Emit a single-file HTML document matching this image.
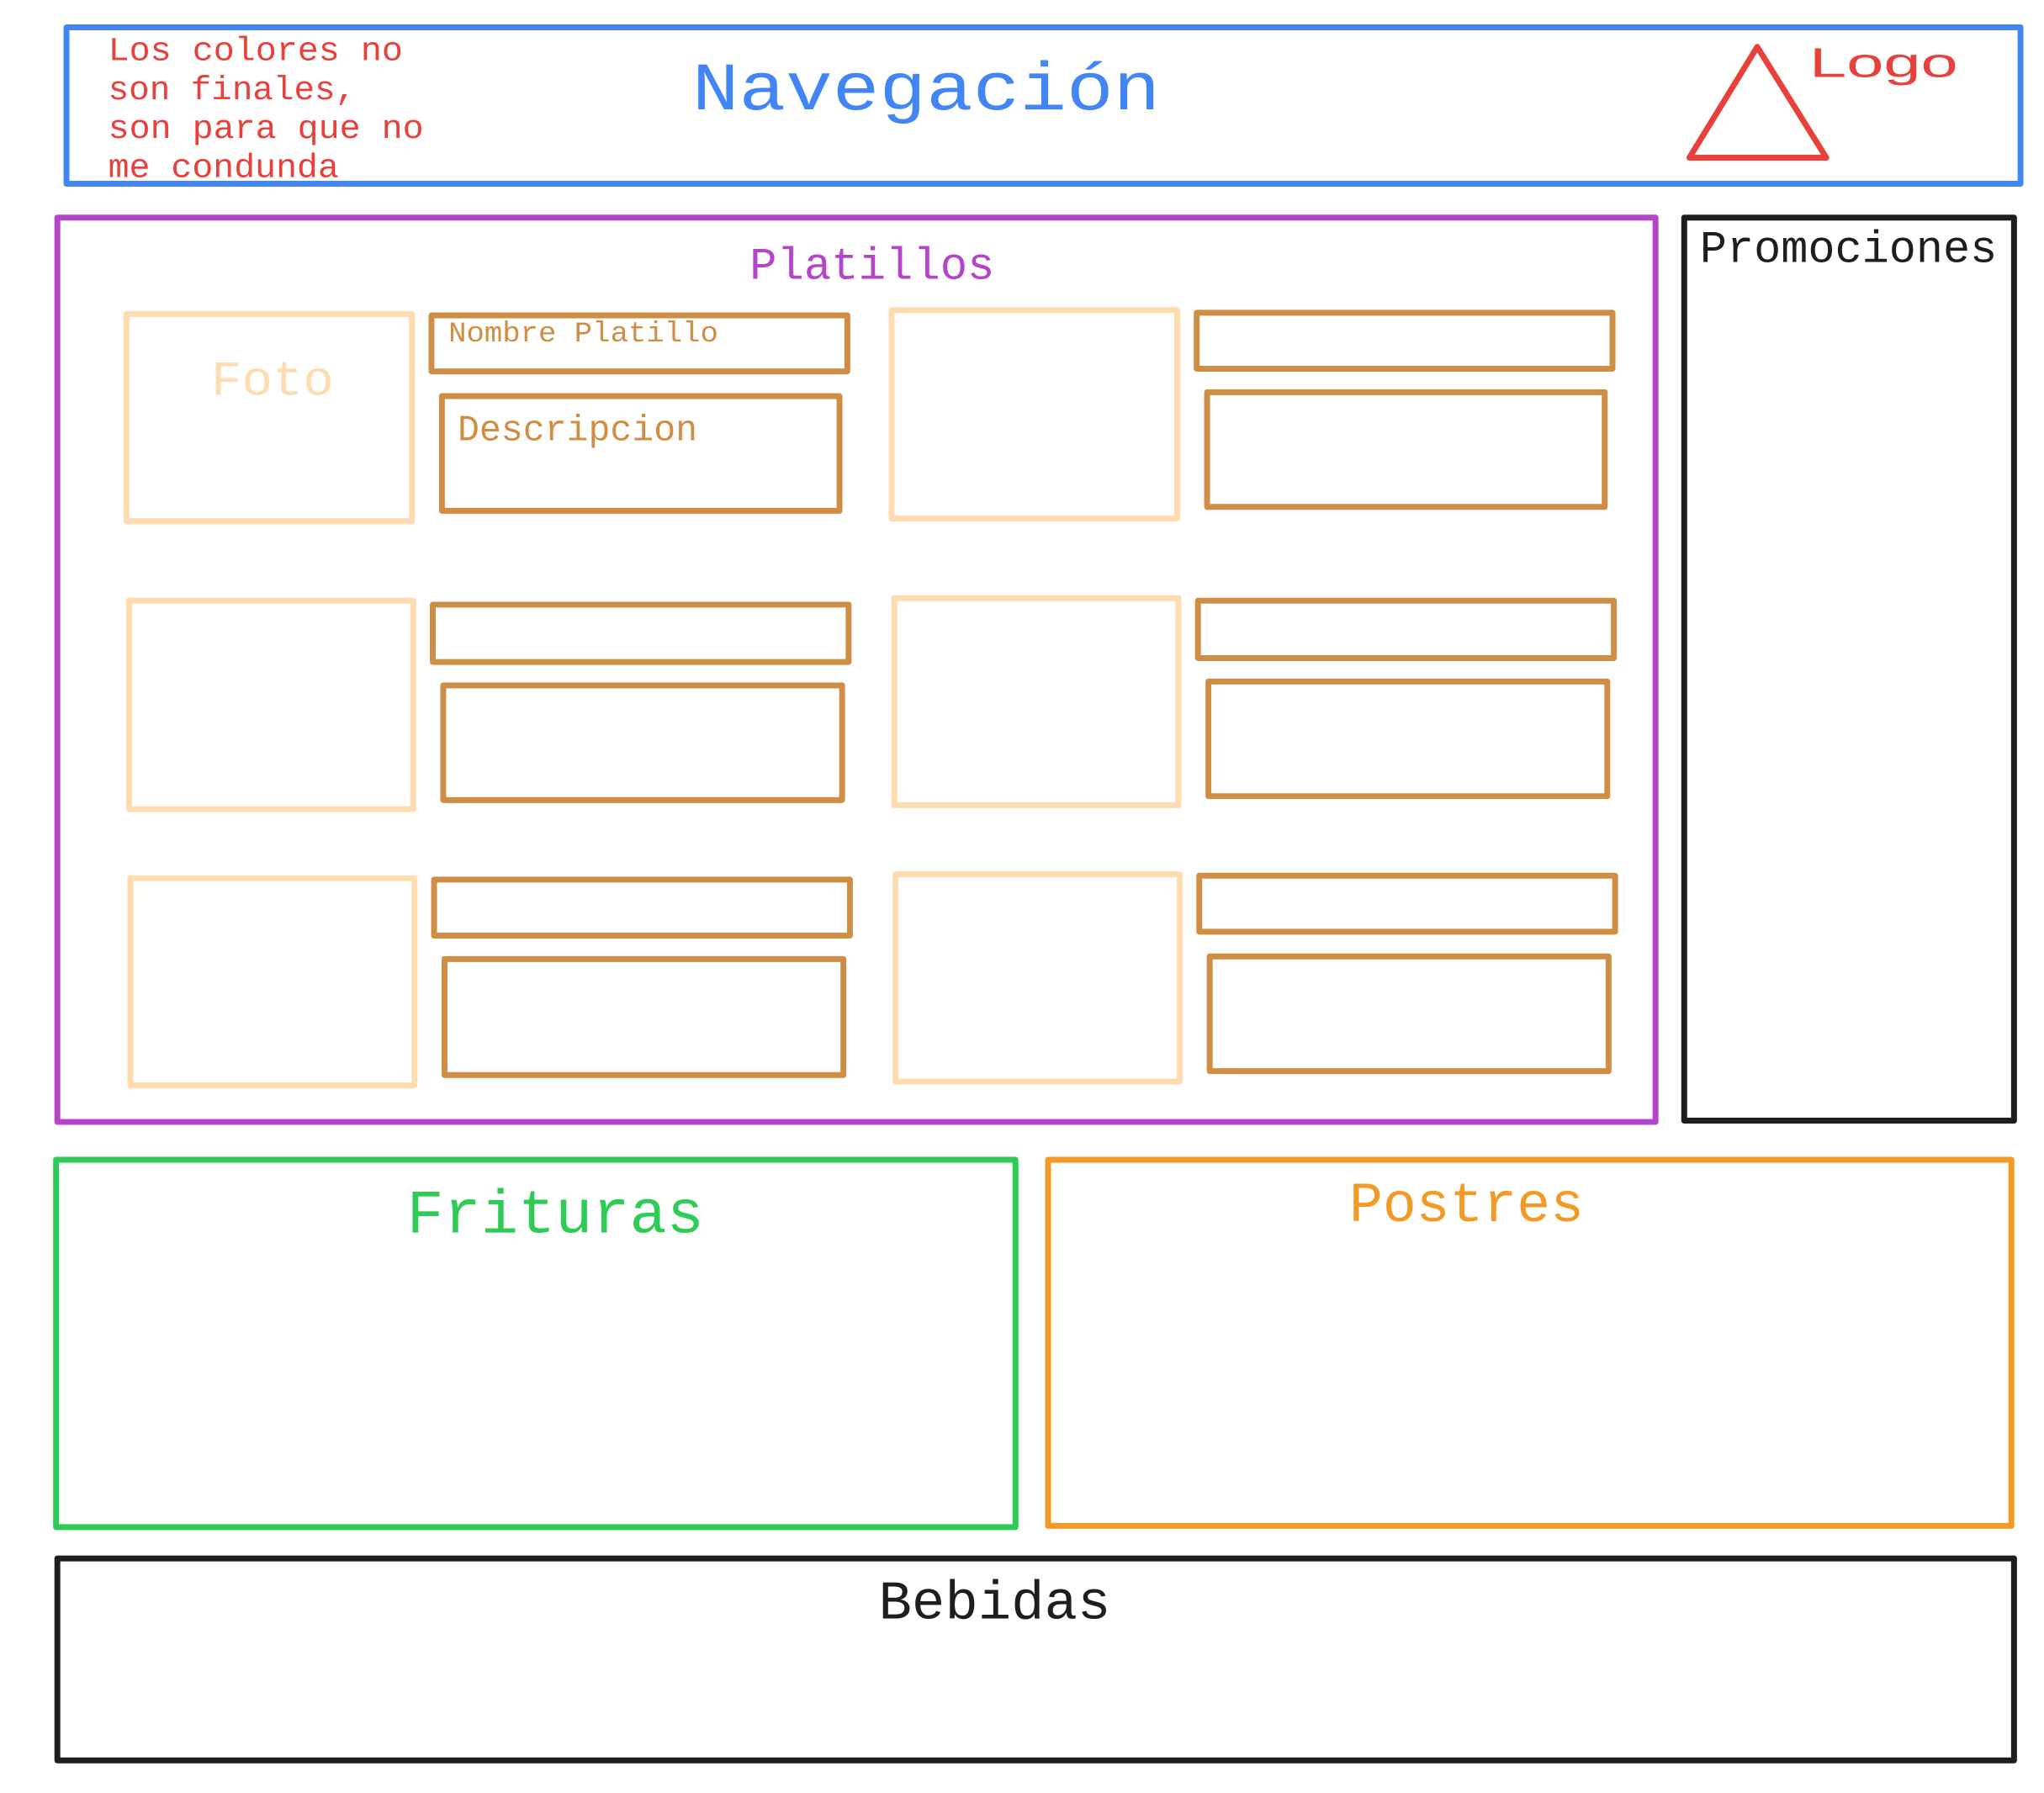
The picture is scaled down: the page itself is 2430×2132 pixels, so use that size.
<!DOCTYPE html>
<html><head><meta charset="utf-8"><style>
html,body{margin:0;padding:0;background:#fff;width:2430px;height:2132px;overflow:hidden}
svg{display:block}
text{font-family:"Liberation Mono",monospace}
</style></head><body>
<svg width="2430" height="2132" viewBox="0 0 1568 1376" preserveAspectRatio="none" xmlns="http://www.w3.org/2000/svg">
<g fill="none" stroke-width="4.5" stroke-linejoin="round">
<rect x="51" y="21" width="1499" height="120" stroke="#4285F4"/>
<polygon points="1348,36 1296,121 1401,121" stroke="#E8403A"/>
<rect x="44" y="167" width="1226" height="694" stroke="#B444C8"/>
<rect x="1292" y="167" width="253" height="693" stroke="#1e1e1e"/>
<g stroke="#FFDCB0">
<rect x="97" y="241" width="219" height="159"/>
<rect x="684" y="238" width="219" height="160"/>
<rect x="99" y="461" width="218" height="160"/>
<rect x="686" y="459" width="218" height="159"/>
<rect x="100" y="674" width="218" height="159"/>
<rect x="687" y="671" width="218" height="159"/>
</g>
<g stroke="#D08E45">
<rect x="331" y="242" width="319" height="43"/>
<rect x="339" y="304" width="305" height="88"/>
<rect x="918" y="240" width="319" height="43"/>
<rect x="926" y="301" width="305" height="88"/>
<rect x="332" y="464" width="319" height="44"/>
<rect x="340" y="526" width="306" height="88"/>
<rect x="919" y="461" width="319" height="44"/>
<rect x="927" y="523" width="306" height="88"/>
<rect x="333" y="675" width="319" height="43"/>
<rect x="341" y="736" width="306" height="89"/>
<rect x="920" y="672" width="319" height="43"/>
<rect x="928" y="734" width="306" height="88"/>
</g>
<rect x="43" y="890" width="736" height="282" stroke="#2ECC57"/>
<rect x="804" y="890" width="739" height="281" stroke="#F39A26"/>
<rect x="44" y="1196" width="1501" height="155" stroke="#1e1e1e"/>
</g>
<g fill="#E8403A" font-size="26">
<text x="83" y="46" textLength="226" lengthAdjust="spacingAndGlyphs">Los colores no</text>
<text x="83" y="76" textLength="190" lengthAdjust="spacingAndGlyphs">son finales,</text>
<text x="83" y="106" textLength="242" lengthAdjust="spacingAndGlyphs">son para que no</text>
<text x="83" y="136" textLength="177" lengthAdjust="spacingAndGlyphs">me condunda</text>
</g>
<text x="531" y="84" fill="#4285F4" font-size="52" textLength="359" lengthAdjust="spacingAndGlyphs">Navegación</text>
<text x="1388" y="59" fill="#E8403A" font-size="32" style="font-family:'Liberation Sans',sans-serif" textLength="114" lengthAdjust="spacingAndGlyphs">Logo</text>
<text x="575" y="214" fill="#B444C8" font-size="35" textLength="188" lengthAdjust="spacingAndGlyphs">Platillos</text>
<text x="1304" y="201" fill="#1e1e1e" font-size="35" textLength="228" lengthAdjust="spacingAndGlyphs">Promociones</text>
<text x="162" y="303" fill="#FFDCB0" font-size="38" textLength="94" lengthAdjust="spacingAndGlyphs">Foto</text>
<text x="344" y="262" fill="#D08E45" font-size="22" textLength="207" lengthAdjust="spacingAndGlyphs">Nombre Platillo</text>
<text x="351" y="338" fill="#D08E45" font-size="28" textLength="184" lengthAdjust="spacingAndGlyphs">Descripcion</text>
<text x="312" y="946" fill="#2ECC57" font-size="47" textLength="228" lengthAdjust="spacingAndGlyphs">Frituras</text>
<text x="1035" y="937" fill="#F39A26" font-size="43" textLength="180" lengthAdjust="spacingAndGlyphs">Postres</text>
<text x="674" y="1242" fill="#1e1e1e" font-size="42" textLength="178" lengthAdjust="spacingAndGlyphs">Bebidas</text>
</svg>
</body></html>
